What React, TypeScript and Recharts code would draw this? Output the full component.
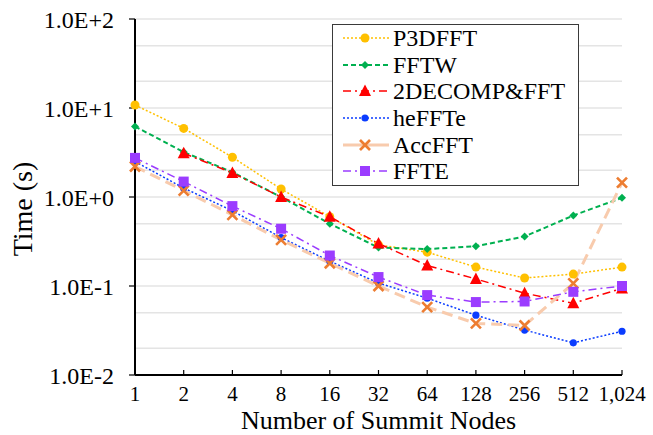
import React from "react";
import { LineChart, Line, XAxis, YAxis, CartesianGrid, Legend } from "recharts";

const nodes = ["1", "2", "4", "8", "16", "32", "64", "128", "256", "512", "1,024"];

const p3dfft = [10.8, 5.9, 2.8, 1.23, 0.6, 0.29, 0.24, 0.163, 0.123, 0.136, 0.163];
const fftw = [6.2, 3.2, 1.9, 1.0, 0.5, 0.27, 0.26, 0.28, 0.36, 0.62, 0.98];
const decomp = [null, 3.1, 1.86, 1.0, 0.6, 0.3, 0.17, 0.12, 0.083, 0.064, 0.094];
const heffte = [2.5, 1.26, 0.7, 0.35, 0.19, 0.108, 0.073, 0.047, 0.032, 0.023, 0.031];
const accfft = [2.2, 1.18, 0.63, 0.33, 0.18, 0.1, 0.058, 0.038, 0.036, 0.107, 1.45];
const ffte = [2.75, 1.49, 0.79, 0.44, 0.22, 0.126, 0.079, 0.066, 0.067, 0.086, 0.1];

const majorTicks = [0.01, 0.1, 1, 10, 100];
const minorGrid = [0.01, 0.1, 1, 10].flatMap((d) => [1, 2, 3, 4, 5, 6, 7, 8, 9].map((m) => +(d * m).toPrecision(3))).concat([100]);

const FONT = "'Liberation Serif', 'Times New Roman', Times, 'DejaVu Serif', serif";

type Shape = "circle" | "diamond" | "triangle" | "dot" | "x" | "square";

const series: {
  key: string;
  name: string;
  values: (number | null)[];
  line: string;
  mark: string;
  width: number;
  dash?: string;
  legendDash?: string;
  shape: Shape;
}[] = [
  { key: "p3dfft", name: "P3DFFT", values: p3dfft, line: "#FFC000", mark: "#FFC000", width: 1.5, dash: "2 2", shape: "circle" },
  { key: "fftw", name: "FFTW", values: fftw, line: "#00B050", mark: "#00B050", width: 2, dash: "5 3", shape: "diamond" },
  { key: "decomp", name: "2DECOMP&FFT", values: decomp, line: "#FF0000", mark: "#FF0000", width: 1.5, dash: "8 4 2 4", shape: "triangle" },
  { key: "heffte", name: "heFFTe", values: heffte, line: "#0A3CFF", mark: "#0A3CFF", width: 1.5, dash: "2 2", shape: "dot" },
  { key: "accfft", name: "AccFFT", values: accfft, line: "#F8CBAD", mark: "#ED7D31", width: 3, dash: "11 6", legendDash: "0", shape: "x" },
  { key: "ffte", name: "FFTE", values: ffte, line: "#9B3CFF", mark: "#9B3CFF", width: 1.5, dash: "8 4 2 4", shape: "square" },
];

const data = nodes.map((n, i) => {
  const row: Record<string, string | number | null> = { n };
  series.forEach((s) => (row[s.key] = s.values[i]));
  return row;
});

function Marker({ cx, cy, shape, color }: { cx: number; cy: number; shape: Shape; color: string }) {
  if (cx == null || cy == null || isNaN(cx) || isNaN(cy)) return null;
  switch (shape) {
    case "circle":
      return <circle cx={cx} cy={cy} r={4.5} fill={color} />;
    case "dot":
      return <circle cx={cx} cy={cy} r={3.6} fill={color} />;
    case "diamond":
      return <polygon points={`${cx},${cy - 4} ${cx + 4},${cy} ${cx},${cy + 4} ${cx - 4},${cy}`} fill={color} />;
    case "triangle":
      return <polygon points={`${cx},${cy - 6.5} ${cx + 6},${cy + 5} ${cx - 6},${cy + 5}`} fill={color} />;
    case "square":
      return <rect x={cx - 5} y={cy - 5} width={10} height={10} fill={color} />;
    case "x":
      return (
        <g stroke={color} strokeWidth={2.6}>
          <line x1={cx - 5} y1={cy - 5} x2={cx + 5} y2={cy + 5} />
          <line x1={cx - 5} y1={cy + 5} x2={cx + 5} y2={cy - 5} />
        </g>
      );
  }
  return null;
}

const fmtExp = (v: number) => {
  const e = Math.round(Math.log10(v));
  return `1.0E${e >= 0 ? "+" : ""}${e}`;
};

function XTick({ x, y, payload }: any) {
  return (
    <g>
      <line x1={x} x2={x} y1={y} y2={y - 5} stroke="#000" strokeWidth={1.2} />
      <text x={x} y={y + 26} textAnchor="middle" style={{ fontFamily: FONT }} fontSize={21} fill="#000">
        {payload.value}
      </text>
    </g>
  );
}

function LegendBox() {
  return (
    <div
      style={{
        width: 245,
        border: "1.5px solid #3a3a3a",
        background: "#fff",
        fontFamily: FONT,
        fontSize: 24,
        color: "#000",
      }}
    >
      {series.map((s) => (
        <div key={s.key} style={{ display: "flex", alignItems: "center", height: 26.6 }}>
          <svg width={60} height={26} style={{ flex: "none" }}>
            <line
              x1={10}
              x2={56}
              y1={13}
              y2={13}
              stroke={s.line}
              strokeWidth={s.width}
              strokeDasharray={s.legendDash ?? s.dash}
            />
            <Marker cx={32} cy={13} shape={s.shape} color={s.mark} />
          </svg>
          <span style={{ lineHeight: "26px" }}>{s.name}</span>
        </div>
      ))}
    </div>
  );
}

export default function App() {
  return (
    <div style={{ position: "absolute", left: 0, top: 0, width: 653, height: 435, background: "#fff", fontFamily: FONT }}>
      <LineChart width={653} height={435} data={data} margin={{ top: 19, right: 31, bottom: 0, left: 0 }} style={{ fontFamily: FONT }}>
        <CartesianGrid horizontalValues={minorGrid} vertical={false} stroke="#e4e4e4" strokeWidth={1.5} />
        <XAxis
          dataKey="n"
          interval={0}
          height={60}
          tickLine={false}
          tickSize={0}
          tickMargin={0}
          tick={<XTick />}
          axisLine={{ stroke: "#000", strokeWidth: 2 }}
          label={{
            content: ({ viewBox }: any) => (
              <text
                x={viewBox.x + viewBox.width / 2}
                y={viewBox.y + 54}
                textAnchor="middle"
                style={{ fontFamily: FONT }}
                fontSize={26}
                fill="#000"
              >
                Number of Summit Nodes
              </text>
            ),
          }}
        />
        <XAxis xAxisId="top" dataKey="n" orientation="top" height={0} tick={false} tickLine={false} axisLine={{ stroke: "#000", strokeWidth: 2 }} />
        <YAxis
          scale="log"
          domain={[0.01, 100]}
          ticks={majorTicks}
          allowDataOverflow
          width={135}
          tickFormatter={fmtExp}
          tickSize={6}
          tickMargin={15}
          tick={{ style: { fontFamily: FONT }, fontSize: 24, fill: "#000" }}
          tickLine={{ stroke: "#000", strokeWidth: 1.2 }}
          axisLine={{ stroke: "#000", strokeWidth: 2 }}
          label={{
            content: ({ viewBox }: any) => {
              const cx = viewBox.x + 22;
              const cy = viewBox.y + viewBox.height / 2 + 12;
              return (
                <text
                  x={cx}
                  y={cy}
                  transform={`rotate(-90 ${cx} ${cy})`}
                  textAnchor="middle"
                  dominantBaseline="central"
                  style={{ fontFamily: FONT }}
                  fontSize={28}
                  fill="#000"
                >
                  Time (s)
                </text>
              );
            },
          }}
        />
        <YAxis yAxisId="right" orientation="right" width={0} tick={false} tickLine={false} axisLine={{ stroke: "#000", strokeWidth: 2 }} />
        <Legend
          layout="horizontal"
          verticalAlign="middle"
          align="center"
          content={<LegendBox />}
          wrapperStyle={{ position: "absolute", top: 24, left: 332, width: 248 }}
        />
        {series.map((s) => (
          <Line
            key={s.key}
            dataKey={s.key}
            name={s.name}
            stroke={s.line}
            strokeWidth={s.width}
            strokeDasharray={s.dash}
            isAnimationActive={false}
            dot={(p: any) => <Marker key={`${s.key}-${p.index}`} cx={p.cx} cy={p.cy} shape={s.shape} color={s.mark} />}
            activeDot={false}
          />
        ))}
      </LineChart>
    </div>
  );
}
